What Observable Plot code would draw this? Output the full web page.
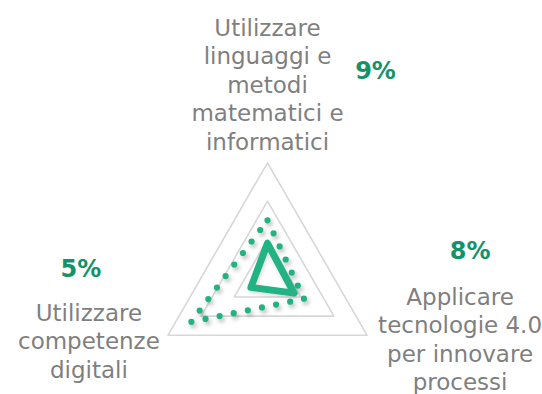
<!DOCTYPE html>
<html><head><meta charset="utf-8">
<script src="https://cdn.jsdelivr.net/npm/d3@7"></script>
<script src="https://cdn.jsdelivr.net/npm/@observablehq/plot@0.6"></script>
<style>
body{margin:0;background:#fff;}
#chart svg{display:block;}
.shadow-dotted{filter:drop-shadow(2px 3px 2px rgba(0,0,0,0.28));}
.shadow-solid{filter:drop-shadow(1px 2px 2px rgba(0,0,0,0.15));}
</style></head><body><div id="chart"></div>
<script>
// ---- data ----
const axes = ["Matematica", "Tecnologie", "Digitale"];
const axisLabels = [
  "Utilizzare\nlinguaggi e\nmetodi\nmatematici e\ninformatici",
  "Applicare\ntecnologie 4.0\nper innovare\nprocessi",
  "Utilizzare\ncompetenze\ndigitali"
];
const pctLabels = ["9%", "8%", "5%"];
const dottedValues = [15, 11, 23];
const solidValues = [9, 8, 5];
const rings = [10, 20, 30];
const maxValue = 30;

// ---- layout ----
const W = 542, H = 394, cx = 267, cy = 277.3, R = 115;
const k = R / maxValue;
const angle = i => (i * 2 * Math.PI) / axes.length;
const pt = (v, i) => ({x: v * Math.sin(angle(i)), y: v * Math.cos(angle(i)), i});

const ringData = rings.flatMap(r => axes.map((a, i) => ({...pt(r, i), ring: r})));
const dotted = dottedValues.map((v, i) => pt(v, i));
const solid = solidValues.map((v, i) => pt(v, i));
const ends = axes.map((a, i) => ({...pt(maxValue, i), label: axisLabels[i], pct: pctLabels[i]}));

const green = "#22b384", pctGreen = "#14936a", gray = "#7f7f7f";
const font = "DejaVu Sans";
const labelOffsets = [[0, -79], [93, 3], [-79, 5]];
const pctOffsets = [[108, -91], [103, -84], [-87, -66]];

const marks = [
  Plot.line(ringData, {x: "x", y: "y", z: "ring", curve: "linear-closed", stroke: "#d7d7d7", strokeWidth: 1.6}),
  Plot.line(dotted, {x: "x", y: "y", curve: "linear-closed", stroke: green, strokeWidth: 6.2,
    strokeDasharray: "0 14.4", strokeLinecap: "round"}),
  Plot.line(solid, {x: "x", y: "y", curve: "linear-closed", stroke: green, strokeWidth: 7,
    strokeLinejoin: "round"})
];
ends.forEach((d, i) => {
  marks.push(Plot.text([d], {x: "x", y: "y", text: "label", dx: labelOffsets[i][0], dy: labelOffsets[i][1],
    fill: gray, fontSize: 23, fontFamily: font, lineHeight: 1.235, textAnchor: "middle"}));
  marks.push(Plot.text([d], {x: "x", y: "y", text: "pct", dx: pctOffsets[i][0], dy: pctOffsets[i][1],
    fill: pctGreen, fontSize: 24, fontWeight: "bold", fontFamily: font, textAnchor: "middle"}));
});

const chart = Plot.plot({
  width: W, height: H, margin: 0,
  x: {domain: [-cx / k, (W - cx) / k], axis: null},
  y: {domain: [-(H - cy) / k, cy / k], axis: null},
  style: {background: "#fff", overflow: "visible"},
  marks
});
const lineGroups = chart.querySelectorAll('g[aria-label="line"]');
if (lineGroups[1]) lineGroups[1].classList.add("shadow-dotted");
if (lineGroups[2]) lineGroups[2].classList.add("shadow-solid");
document.getElementById("chart").appendChild(chart);
</script></body></html>
